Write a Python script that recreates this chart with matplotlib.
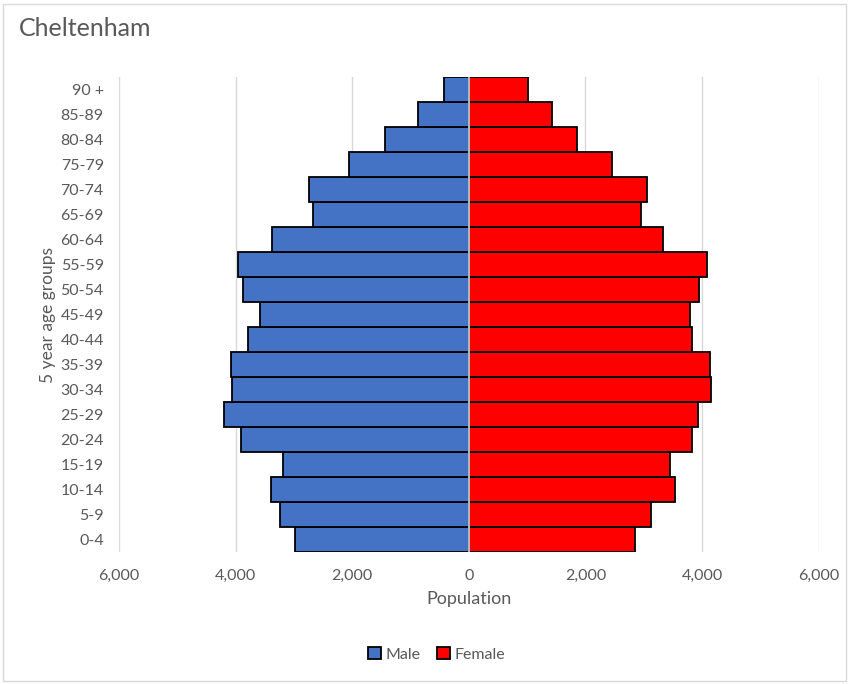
import matplotlib.pyplot as plt
from matplotlib.patches import Rectangle
from matplotlib.ticker import FuncFormatter

plt.rcParams['font.family'] = ['Lato', 'DejaVu Sans']

# 5-year age bands, youngest first
age_groups = ['0-4', '5-9', '10-14', '15-19', '20-24', '25-29', '30-34', '35-39',
              '40-44', '45-49', '50-54', '55-59', '60-64', '65-69', '70-74',
              '75-79', '80-84', '85-89', '90 +']
male = [2980, 3240, 3390, 3190, 3910, 4200, 4060, 4080, 3790, 3580,
        3870, 3960, 3380, 2670, 2740, 2060, 1440, 870, 430]
female = [2850, 3120, 3530, 3450, 3820, 3930, 4150, 4130, 3820, 3790,
          3940, 4080, 3330, 2950, 3050, 2450, 1850, 1420, 1010]

male_colour = '#4472C4'
female_colour = '#FF0000'
text_colour = '#595959'

fig = plt.figure(figsize=(8.51, 6.84), dpi=100)
fig.patches.append(Rectangle((0.004, 0.004), 0.99, 0.99, transform=fig.transFigure,
                             fill=False, edgecolor='#D9D9D9', linewidth=1))

ax = fig.add_axes([0.14, 0.193, 0.822, 0.694])
y = range(len(age_groups))
ax.barh(y, [-m for m in male], height=1.0, color=male_colour,
        edgecolor='black', linewidth=1.3, label='Male', zorder=3)
ax.barh(y, female, height=1.0, color=female_colour,
        edgecolor='black', linewidth=1.3, label='Female', zorder=3)

ax.set_xlim(-6000, 6000)
ax.set_ylim(-0.5, len(age_groups) - 0.5)
ax.set_xticks(range(-6000, 6001, 2000))
ax.xaxis.set_major_formatter(FuncFormatter(lambda v, p: f'{abs(int(v)):,}'))
ax.set_yticks(list(y))
ax.set_yticklabels(age_groups)
ax.grid(axis='x', color='#D9D9D9', linewidth=1, zorder=0)
ax.axvline(0, color='#D9D9D9', linewidth=1.2, zorder=4)
for side in ['top', 'right', 'bottom', 'left']:
    ax.spines[side].set_visible(False)
ax.tick_params(length=0, labelsize=11.5, colors=text_colour, pad=11)
ax.tick_params(axis='x', pad=12)

ax.set_xlabel('Population', fontsize=13, color=text_colour, labelpad=6)
ax.set_ylabel('5 year age groups', fontsize=12.5, color=text_colour, labelpad=3)

fig.text(0.022, 0.958, 'Cheltenham', fontsize=18, color=text_colour, va='center')

leg = fig.legend(loc='center', bbox_to_anchor=(0.513, 0.043), ncol=2, frameon=False,
                 fontsize=11.5, handlelength=0.8, handleheight=0.8,
                 handletextpad=0.3, columnspacing=1.0)
for t in leg.get_texts():
    t.set_color(text_colour)

fig.savefig('out.png', dpi=100)
